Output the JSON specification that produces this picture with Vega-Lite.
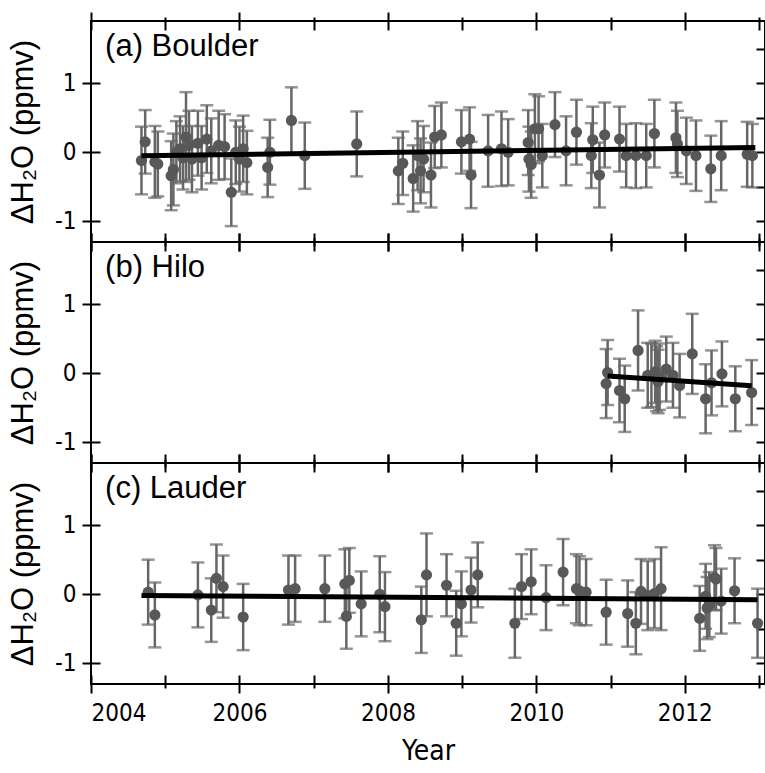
{
  "$schema": "https://vega.github.io/schema/vega-lite/v6.json",
  "padding": {"left": 6, "top": 10, "right": 0, "bottom": 0},
  "spacing": 0,
  "bounds": "flush",
  "config": {
    "view": {"stroke": "black", "strokeWidth": 2},
    "axis": {
      "labelFont": "Liberation Sans Narrow, DejaVu Sans Condensed, sans-serif",
      "labelFontSize": 24,
      "labelColor": "black",
      "titleFont": "Liberation Sans, sans-serif",
      "titleFontSize": 31,
      "titleFontWeight": "normal",
      "titleColor": "black",
      "tickColor": "black",
      "tickWidth": 2,
      "domain": false,
      "grid": false
    }
  },
  "datasets": {
    "boulder": [
      {"year": 2004.68, "val": -0.12, "err": 0.49}, {"year": 2004.73, "val": 0.15, "err": 0.46},
      {"year": 2004.86, "val": -0.14, "err": 0.52}, {"year": 2004.9, "val": -0.17, "err": 0.47},
      {"year": 2005.08, "val": -0.34, "err": 0.5}, {"year": 2005.11, "val": -0.25, "err": 0.52},
      {"year": 2005.15, "val": 0.0, "err": 0.45}, {"year": 2005.2, "val": 0.05, "err": 0.47},
      {"year": 2005.24, "val": -0.08, "err": 0.46}, {"year": 2005.28, "val": 0.22, "err": 0.65},
      {"year": 2005.32, "val": 0.1, "err": 0.5}, {"year": 2005.36, "val": -0.1, "err": 0.48},
      {"year": 2005.44, "val": 0.13, "err": 0.47}, {"year": 2005.49, "val": -0.08, "err": 0.46},
      {"year": 2005.56, "val": 0.19, "err": 0.49}, {"year": 2005.62, "val": 0.02, "err": 0.47},
      {"year": 2005.72, "val": 0.1, "err": 0.5}, {"year": 2005.8, "val": 0.08, "err": 0.47},
      {"year": 2005.89, "val": -0.58, "err": 0.49}, {"year": 2005.95, "val": 0.0, "err": 0.46},
      {"year": 2006.0, "val": -0.1, "err": 0.47}, {"year": 2006.05, "val": 0.05, "err": 0.48},
      {"year": 2006.1, "val": -0.15, "err": 0.46}, {"year": 2006.38, "val": -0.22, "err": 0.43},
      {"year": 2006.41, "val": 0.0, "err": 0.47}, {"year": 2006.7, "val": 0.46, "err": 0.48},
      {"year": 2006.88, "val": -0.05, "err": 0.48}, {"year": 2007.58, "val": 0.12, "err": 0.47},
      {"year": 2008.14, "val": -0.27, "err": 0.48}, {"year": 2008.2, "val": -0.16, "err": 0.46},
      {"year": 2008.34, "val": -0.38, "err": 0.48}, {"year": 2008.4, "val": -0.05, "err": 0.5},
      {"year": 2008.44, "val": -0.27, "err": 0.47}, {"year": 2008.48, "val": -0.1, "err": 0.48},
      {"year": 2008.58, "val": -0.33, "err": 0.47}, {"year": 2008.63, "val": 0.22, "err": 0.45},
      {"year": 2008.72, "val": 0.25, "err": 0.47}, {"year": 2008.99, "val": 0.15, "err": 0.46},
      {"year": 2009.1, "val": 0.19, "err": 0.46}, {"year": 2009.12, "val": -0.33, "err": 0.48},
      {"year": 2009.35, "val": 0.02, "err": 0.52}, {"year": 2009.53, "val": 0.05, "err": 0.54},
      {"year": 2009.62, "val": 0.0, "err": 0.48}, {"year": 2009.89, "val": 0.14, "err": 0.47},
      {"year": 2009.9, "val": -0.1, "err": 0.47}, {"year": 2009.93, "val": -0.18, "err": 0.48},
      {"year": 2009.98, "val": 0.34, "err": 0.5}, {"year": 2010.03, "val": 0.34, "err": 0.47},
      {"year": 2010.08, "val": -0.05, "err": 0.46}, {"year": 2010.25, "val": 0.4, "err": 0.47},
      {"year": 2010.4, "val": 0.02, "err": 0.5}, {"year": 2010.54, "val": 0.29, "err": 0.47},
      {"year": 2010.74, "val": -0.05, "err": 0.47}, {"year": 2010.76, "val": 0.18, "err": 0.48},
      {"year": 2010.85, "val": -0.33, "err": 0.47}, {"year": 2010.92, "val": 0.25, "err": 0.47},
      {"year": 2011.12, "val": 0.19, "err": 0.47}, {"year": 2011.21, "val": -0.05, "err": 0.46},
      {"year": 2011.34, "val": -0.05, "err": 0.47}, {"year": 2011.48, "val": -0.05, "err": 0.46},
      {"year": 2011.59, "val": 0.27, "err": 0.49}, {"year": 2011.88, "val": 0.21, "err": 0.51},
      {"year": 2011.9, "val": 0.12, "err": 0.48}, {"year": 2012.02, "val": 0.02, "err": 0.48},
      {"year": 2012.15, "val": -0.05, "err": 0.51}, {"year": 2012.35, "val": -0.24, "err": 0.48},
      {"year": 2012.49, "val": -0.05, "err": 0.5}, {"year": 2012.84, "val": -0.03, "err": 0.47},
      {"year": 2012.91, "val": -0.05, "err": 0.46}
    ],
    "hilo": [
      {"year": 2010.94, "val": -0.15, "err": 0.5}, {"year": 2010.96, "val": 0.01, "err": 0.47},
      {"year": 2011.12, "val": -0.25, "err": 0.46}, {"year": 2011.19, "val": -0.37, "err": 0.48},
      {"year": 2011.37, "val": 0.33, "err": 0.58}, {"year": 2011.5, "val": -0.03, "err": 0.47},
      {"year": 2011.55, "val": -0.03, "err": 0.46}, {"year": 2011.6, "val": 0.02, "err": 0.45},
      {"year": 2011.62, "val": -0.08, "err": 0.47}, {"year": 2011.64, "val": -0.12, "err": 0.46},
      {"year": 2011.66, "val": -0.05, "err": 0.48}, {"year": 2011.75, "val": 0.06, "err": 0.47},
      {"year": 2011.84, "val": -0.03, "err": 0.47}, {"year": 2011.93, "val": -0.18, "err": 0.46},
      {"year": 2012.1, "val": 0.28, "err": 0.58}, {"year": 2012.28, "val": -0.37, "err": 0.5},
      {"year": 2012.36, "val": -0.14, "err": 0.47}, {"year": 2012.5, "val": -0.01, "err": 0.47},
      {"year": 2012.68, "val": -0.37, "err": 0.47}, {"year": 2012.9, "val": -0.28, "err": 0.47}
    ],
    "lauder": [
      {"year": 2004.77, "val": 0.03, "err": 0.47}, {"year": 2004.86, "val": -0.3, "err": 0.47},
      {"year": 2005.44, "val": -0.01, "err": 0.47}, {"year": 2005.62, "val": -0.23, "err": 0.46},
      {"year": 2005.69, "val": 0.23, "err": 0.49}, {"year": 2005.78, "val": 0.11, "err": 0.45},
      {"year": 2006.05, "val": -0.33, "err": 0.48}, {"year": 2006.66, "val": 0.06, "err": 0.5},
      {"year": 2006.75, "val": 0.08, "err": 0.48}, {"year": 2007.15, "val": 0.08, "err": 0.48},
      {"year": 2007.42, "val": 0.15, "err": 0.5}, {"year": 2007.44, "val": -0.32, "err": 0.47},
      {"year": 2007.48, "val": 0.2, "err": 0.47}, {"year": 2007.64, "val": -0.14, "err": 0.47},
      {"year": 2007.89, "val": 0.0, "err": 0.55}, {"year": 2007.96, "val": -0.18, "err": 0.5},
      {"year": 2008.45, "val": -0.37, "err": 0.48}, {"year": 2008.52, "val": 0.28, "err": 0.6},
      {"year": 2008.79, "val": 0.13, "err": 0.45}, {"year": 2008.92, "val": -0.42, "err": 0.47},
      {"year": 2008.99, "val": -0.14, "err": 0.47}, {"year": 2009.12, "val": 0.06, "err": 0.47},
      {"year": 2009.21, "val": 0.28, "err": 0.47}, {"year": 2009.71, "val": -0.42, "err": 0.5},
      {"year": 2009.8, "val": 0.11, "err": 0.47}, {"year": 2009.93, "val": 0.18, "err": 0.47},
      {"year": 2010.13, "val": -0.05, "err": 0.47}, {"year": 2010.36, "val": 0.32, "err": 0.48},
      {"year": 2010.54, "val": 0.08, "err": 0.5}, {"year": 2010.58, "val": 0.05, "err": 0.5},
      {"year": 2010.67, "val": 0.03, "err": 0.48}, {"year": 2010.94, "val": -0.26, "err": 0.47},
      {"year": 2011.23, "val": -0.28, "err": 0.48}, {"year": 2011.34, "val": -0.42, "err": 0.45},
      {"year": 2011.41, "val": 0.04, "err": 0.47}, {"year": 2011.5, "val": -0.02, "err": 0.5},
      {"year": 2011.59, "val": 0.01, "err": 0.5}, {"year": 2011.68, "val": 0.08, "err": 0.6},
      {"year": 2012.2, "val": -0.35, "err": 0.47}, {"year": 2012.28, "val": -0.03, "err": 0.47},
      {"year": 2012.3, "val": -0.2, "err": 0.45}, {"year": 2012.33, "val": -0.15, "err": 0.47},
      {"year": 2012.4, "val": 0.24, "err": 0.47}, {"year": 2012.42, "val": 0.22, "err": 0.45},
      {"year": 2012.49, "val": -0.1, "err": 0.47}, {"year": 2012.67, "val": 0.05, "err": 0.47},
      {"year": 2012.98, "val": -0.42, "err": 0.5}
    ],
    "trends": [
      {"site": "a", "year": 2004.68, "val": -0.05}, {"site": "a", "year": 2012.95, "val": 0.07},
      {"site": "b", "year": 2010.96, "val": -0.04}, {"site": "b", "year": 2012.9, "val": -0.18},
      {"site": "c", "year": 2004.68, "val": -0.02}, {"site": "c", "year": 2012.98, "val": -0.08}
    ],
    "labels": [
      {"site": "a", "label": "(a) Boulder"},
      {"site": "b", "label": "(b) Hilo"},
      {"site": "c", "label": "(c) Lauder"}
    ]
  },
  "vconcat": [
    {
      "width": 674, "height": 221,
      "resolve": {"axis": {"x": "independent", "y": "independent"}},
      "layer": [
        {
          "data": {"name": "boulder"},
          "mark": {"type": "errorbar", "color": "#666666", "thickness": 2.5, "ticks": {"size": 13, "thickness": 2.5, "color": "#666666"}},
          "encoding": {
            "x": {"field": "year", "type": "quantitative", "scale": {"domain": [2004, 2013.08], "nice": false, "zero": false}, "axis": null},
            "y": {"field": "val", "type": "quantitative", "scale": {"domain": [-1.3, 1.9], "nice": false, "zero": false}, "axis": null},
            "yError": {"field": "err"}
          }
        },
        {
          "data": {"name": "boulder"},
          "mark": {"type": "point", "filled": true, "opacity": 1, "size": 125, "color": "#585858"},
          "encoding": {
            "x": {"field": "year", "type": "quantitative", "axis": {"orient": "bottom", "title": null, "values": [2004, 2005, 2006, 2007, 2008, 2009, 2010, 2011, 2012, 2013], "labels": false, "offset": -9, "tickSize": {"condition": {"test": "datum.value % 2 === 0", "value": 18}, "value": 13}}},
            "y": {"field": "val", "type": "quantitative", "axis": {"orient": "left", "title": "ΔH₂O (ppmv)", "titlePadding": 15, "values": [-1, -0.5, 0, 0.5, 1, 1.5], "format": "d", "labelExpr": "datum.value % 1 === 0 ? replace(datum.label, '−', '-') : ''", "labelPadding": 6, "offset": -9, "tickSize": {"condition": {"test": "datum.value % 1 === 0", "value": 18}, "value": 13}}}
          }
        },
        {
          "data": {"name": "trends"},
          "transform": [{"filter": "datum.site === 'a'"}],
          "mark": {"type": "line", "color": "black", "strokeWidth": 5},
          "encoding": {
            "x": {"field": "year", "type": "quantitative", "axis": {"orient": "top", "title": null, "values": [2004, 2005, 2006, 2007, 2008, 2009, 2010, 2011, 2012, 2013], "labels": false, "offset": -9, "tickSize": {"condition": {"test": "datum.value % 2 === 0", "value": 18}, "value": 13}}},
            "y": {"field": "val", "type": "quantitative", "axis": {"orient": "right", "title": null, "values": [-1, -0.5, 0, 0.5, 1, 1.5], "labels": false, "offset": -9, "tickSize": {"condition": {"test": "datum.value % 1 === 0", "value": 18}, "value": 13}}}
          }
        },
        {
          "data": {"name": "labels"},
          "transform": [{"filter": "datum.site === 'a'"}],
          "mark": {"type": "text", "align": "left", "baseline": "middle", "font": "Liberation Sans, sans-serif", "fontSize": 31, "color": "black"},
          "encoding": {
            "text": {"field": "label"},
            "x": {"datum": 2004.19, "type": "quantitative", "axis": null},
            "y": {"datum": 1.52, "type": "quantitative", "axis": null}
          }
        }
      ]
    },
    {
      "width": 674, "height": 221,
      "resolve": {"axis": {"x": "independent", "y": "independent"}},
      "layer": [
        {
          "data": {"name": "hilo"},
          "mark": {"type": "errorbar", "color": "#666666", "thickness": 2.5, "ticks": {"size": 13, "thickness": 2.5, "color": "#666666"}},
          "encoding": {
            "x": {"field": "year", "type": "quantitative", "scale": {"domain": [2004, 2013.08], "nice": false, "zero": false}, "axis": null},
            "y": {"field": "val", "type": "quantitative", "scale": {"domain": [-1.3, 1.9], "nice": false, "zero": false}, "axis": null},
            "yError": {"field": "err"}
          }
        },
        {
          "data": {"name": "hilo"},
          "mark": {"type": "point", "filled": true, "opacity": 1, "size": 125, "color": "#585858"},
          "encoding": {
            "x": {"field": "year", "type": "quantitative", "axis": {"orient": "bottom", "title": null, "values": [2004, 2005, 2006, 2007, 2008, 2009, 2010, 2011, 2012, 2013], "labels": false, "offset": -9, "tickSize": {"condition": {"test": "datum.value % 2 === 0", "value": 18}, "value": 13}}},
            "y": {"field": "val", "type": "quantitative", "axis": {"orient": "left", "title": "ΔH₂O (ppmv)", "titlePadding": 15, "values": [-1, -0.5, 0, 0.5, 1, 1.5], "format": "d", "labelExpr": "datum.value % 1 === 0 ? replace(datum.label, '−', '-') : ''", "labelPadding": 6, "offset": -9, "tickSize": {"condition": {"test": "datum.value % 1 === 0", "value": 18}, "value": 13}}}
          }
        },
        {
          "data": {"name": "trends"},
          "transform": [{"filter": "datum.site === 'b'"}],
          "mark": {"type": "line", "color": "black", "strokeWidth": 5},
          "encoding": {
            "x": {"field": "year", "type": "quantitative", "axis": {"orient": "top", "title": null, "values": [2004, 2005, 2006, 2007, 2008, 2009, 2010, 2011, 2012, 2013], "labels": false, "offset": -9, "tickSize": {"condition": {"test": "datum.value % 2 === 0", "value": 18}, "value": 13}}},
            "y": {"field": "val", "type": "quantitative", "axis": {"orient": "right", "title": null, "values": [-1, -0.5, 0, 0.5, 1, 1.5], "labels": false, "offset": -9, "tickSize": {"condition": {"test": "datum.value % 1 === 0", "value": 18}, "value": 13}}}
          }
        },
        {
          "data": {"name": "labels"},
          "transform": [{"filter": "datum.site === 'b'"}],
          "mark": {"type": "text", "align": "left", "baseline": "middle", "font": "Liberation Sans, sans-serif", "fontSize": 31, "color": "black"},
          "encoding": {
            "text": {"field": "label"},
            "x": {"datum": 2004.19, "type": "quantitative", "axis": null},
            "y": {"datum": 1.52, "type": "quantitative", "axis": null}
          }
        }
      ]
    },
    {
      "width": 674, "height": 221,
      "resolve": {"axis": {"x": "independent", "y": "independent"}},
      "layer": [
        {
          "data": {"name": "lauder"},
          "mark": {"type": "errorbar", "color": "#666666", "thickness": 2.5, "ticks": {"size": 13, "thickness": 2.5, "color": "#666666"}},
          "encoding": {
            "x": {"field": "year", "type": "quantitative", "scale": {"domain": [2004, 2013.08], "nice": false, "zero": false}, "axis": null},
            "y": {"field": "val", "type": "quantitative", "scale": {"domain": [-1.3, 1.9], "nice": false, "zero": false}, "axis": null},
            "yError": {"field": "err"}
          }
        },
        {
          "data": {"name": "lauder"},
          "mark": {"type": "point", "filled": true, "opacity": 1, "size": 125, "color": "#585858"},
          "encoding": {
            "x": {"field": "year", "type": "quantitative", "axis": {"orient": "bottom", "title": "Year", "titleFont": "Liberation Sans Narrow, DejaVu Sans Condensed, sans-serif", "titleFontSize": 28, "titlePadding": 12, "values": [2004, 2005, 2006, 2007, 2008, 2009, 2010, 2011, 2012, 2013], "labelExpr": "datum.value % 2 === 0 ? '' + datum.value : ''", "labelPadding": 8, "offset": -9, "tickSize": {"condition": {"test": "datum.value % 2 === 0", "value": 18}, "value": 13}}},
            "y": {"field": "val", "type": "quantitative", "axis": {"orient": "left", "title": "ΔH₂O (ppmv)", "titlePadding": 15, "values": [-1, -0.5, 0, 0.5, 1, 1.5], "format": "d", "labelExpr": "datum.value % 1 === 0 ? replace(datum.label, '−', '-') : ''", "labelPadding": 6, "offset": -9, "tickSize": {"condition": {"test": "datum.value % 1 === 0", "value": 18}, "value": 13}}}
          }
        },
        {
          "data": {"name": "trends"},
          "transform": [{"filter": "datum.site === 'c'"}],
          "mark": {"type": "line", "color": "black", "strokeWidth": 5},
          "encoding": {
            "x": {"field": "year", "type": "quantitative", "axis": {"orient": "top", "title": null, "values": [2004, 2005, 2006, 2007, 2008, 2009, 2010, 2011, 2012, 2013], "labels": false, "offset": -9, "tickSize": {"condition": {"test": "datum.value % 2 === 0", "value": 18}, "value": 13}}},
            "y": {"field": "val", "type": "quantitative", "axis": {"orient": "right", "title": null, "values": [-1, -0.5, 0, 0.5, 1, 1.5], "labels": false, "offset": -9, "tickSize": {"condition": {"test": "datum.value % 1 === 0", "value": 18}, "value": 13}}}
          }
        },
        {
          "data": {"name": "labels"},
          "transform": [{"filter": "datum.site === 'c'"}],
          "mark": {"type": "text", "align": "left", "baseline": "middle", "font": "Liberation Sans, sans-serif", "fontSize": 31, "color": "black"},
          "encoding": {
            "text": {"field": "label"},
            "x": {"datum": 2004.19, "type": "quantitative", "axis": null},
            "y": {"datum": 1.52, "type": "quantitative", "axis": null}
          }
        }
      ]
    }
  ]
}
